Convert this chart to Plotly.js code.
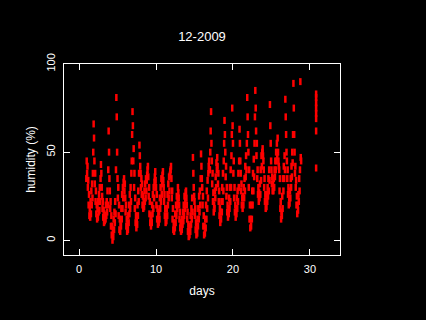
<!DOCTYPE html>
<html>
<head>
<meta charset="utf-8">
<script src="https://cdn.plot.ly/plotly-3.0.1.min.js"></script>
<style>html,body{margin:0;padding:0;background:#000;}#chart{width:426px;height:320px;}</style>
</head>
<body>
<div id="chart"></div>
<script>
// Day of month (fractional) for each reading
const days = [
0.95,
1,1.05,1.1,1.15,1.2,1.25,1.3,1.35,1.4,1.45,1.5,1.55,1.6,1.65,1.7,1.75,1.8,1.85,1.9,1.95,
2,2.05,2.1,2.15,2.2,2.25,2.3,2.35,2.4,2.45,2.5,2.55,2.6,2.65,2.7,2.75,2.8,2.85,2.9,2.95,
3,3.05,3.1,3.15,3.2,3.25,3.3,3.35,3.4,3.45,3.5,3.55,3.6,3.65,3.7,3.75,3.8,3.85,3.9,3.95,
4,4.05,4.1,4.15,4.2,4.25,4.3,4.35,4.4,4.45,4.5,4.55,4.6,4.65,4.7,4.75,4.8,4.85,4.9,4.95,
5,5.05,5.1,5.15,5.2,5.25,5.3,5.35,5.4,5.45,5.5,5.55,5.6,5.65,5.7,5.75,5.8,5.85,5.9,5.95,
6,6.05,6.1,6.15,6.2,6.25,6.3,6.35,6.4,6.45,6.5,6.55,6.6,6.65,6.7,6.75,6.8,6.85,6.9,6.95,
7,7.05,7.1,7.15,7.2,7.25,7.3,7.35,7.4,7.45,7.5,7.55,7.6,7.65,7.7,7.75,7.8,7.85,7.9,7.95,
8,8.05,8.1,8.15,8.2,8.25,8.3,8.35,8.4,8.45,8.5,8.55,8.6,8.65,8.7,8.75,8.8,8.85,8.9,8.95,
9,9.05,9.1,9.15,9.2,9.25,9.3,9.35,9.4,9.45,9.5,9.55,9.6,9.65,9.7,9.75,9.8,9.85,9.9,9.95,
10,10.05,10.1,10.15,10.2,10.25,10.3,10.35,10.4,10.45,10.5,10.55,10.6,10.65,10.7,10.75,10.8,10.85,10.9,10.95,
11,11.05,11.1,11.15,11.2,11.25,11.3,11.35,11.4,11.45,11.5,11.55,11.6,11.65,11.7,11.75,11.8,11.85,11.9,11.95,
12,12.05,12.1,12.15,12.2,12.25,12.3,12.35,12.4,12.45,12.5,12.55,12.6,12.65,12.7,12.75,12.8,12.85,12.9,12.95,
13,13.05,13.1,13.15,13.2,13.25,13.3,13.35,13.4,13.45,13.5,13.55,13.6,13.65,13.7,13.75,13.8,13.85,13.9,13.95,
14,14.05,14.1,14.15,14.2,14.25,14.3,14.35,14.4,14.45,14.5,14.55,14.6,14.65,14.7,14.75,14.8,14.85,14.9,14.95,
15,15.05,15.1,15.15,15.2,15.25,15.3,15.35,15.4,15.45,15.5,15.55,15.6,15.65,15.7,15.75,15.8,15.85,15.9,15.95,
16,16.05,16.1,16.15,16.2,16.25,16.3,16.35,16.4,16.45,16.5,16.55,16.6,16.65,16.7,16.75,16.8,16.85,16.9,16.95,
17,17.05,17.1,17.15,17.2,17.25,17.3,17.35,17.4,17.45,17.5,17.55,17.6,17.65,17.7,17.75,17.8,17.85,17.9,17.95,
18,18.05,18.1,18.15,18.2,18.25,18.3,18.35,18.4,18.45,18.5,18.55,18.6,18.65,18.7,18.75,18.8,18.85,18.9,18.95,
19,19.05,19.1,19.15,19.2,19.25,19.3,19.35,19.4,19.45,19.5,19.55,19.6,19.65,19.7,19.75,19.8,19.85,19.9,19.95,
20,20.05,20.1,20.15,20.2,20.25,20.3,20.35,20.4,20.45,20.5,20.55,20.6,20.65,20.7,20.75,20.8,20.85,20.9,20.95,
21,21.05,21.1,21.15,21.2,21.25,21.3,21.35,21.4,21.45,21.5,21.55,21.6,21.65,21.7,21.75,21.8,21.85,21.9,21.95,
22,22.05,22.1,22.15,22.2,22.25,22.3,22.35,22.4,22.45,22.5,22.55,22.6,22.65,22.7,22.75,22.8,22.85,22.9,22.95,
23,23.05,23.1,23.15,23.2,23.25,23.3,23.35,23.4,23.45,23.5,23.55,23.6,23.65,23.7,23.75,23.8,23.85,23.9,23.95,
24,24.05,24.1,24.15,24.2,24.25,24.3,24.35,24.4,24.45,24.5,24.55,24.6,24.65,24.7,24.75,24.8,24.85,24.9,24.95,
25,25.05,25.1,25.15,25.2,25.25,25.3,25.35,25.4,25.45,25.5,25.55,25.6,25.65,25.7,25.75,25.8,25.85,25.9,25.95,
26,26.05,26.1,26.15,26.2,26.25,26.3,26.35,26.4,26.45,26.5,26.55,26.6,26.65,26.7,26.75,26.8,26.85,26.9,26.95,
27,27.05,27.1,27.15,27.2,27.25,27.3,27.35,27.4,27.45,27.5,27.55,27.6,27.65,27.7,27.75,27.8,27.85,27.9,27.95,
28,28.05,28.1,28.15,28.2,28.25,28.3,28.35,28.4,28.45,28.5,28.55,28.6,28.65,28.7,28.75,28.8,28.85,
30.8,30.8,30.8,30.8,30.8,30.8,30.8,30.8
];

// Relative humidity (%) for each reading
const humidity = [
35,
45,38,42,30,34,20,26,14,18,13,22,15,28,20,32,24,38,50,66,58,
45,32,38,22,28,15,20,12,18,13,22,16,26,17,30,22,35,43,38,30,
25,18,22,13,17,10,15,11,14,12,20,14,22,16,28,20,40,62,50,35,
28,18,22,8,14,3,8,0,5,2,12,6,16,10,22,15,40,81,70,50,
35,24,30,14,20,6,12,5,10,8,18,12,26,18,30,24,33,35,28,32,
24,16,20,8,12,5,9,6,14,10,20,15,26,18,30,22,38,45,60,73,
65,45,52,30,38,18,24,10,14,7,12,9,20,14,28,22,38,54,48,42,
38,30,35,26,32,20,25,18,22,19,28,22,32,24,35,28,34,37,40,42,
36,25,30,15,22,10,14,8,12,10,20,15,26,18,30,24,33,36,39,34,
30,20,26,12,18,9,14,10,16,12,24,18,30,22,35,26,32,37,39,34,
30,22,26,14,18,10,13,11,18,14,26,20,32,24,36,28,37,39,40,42,
35,24,28,12,18,6,10,5,9,7,15,10,20,14,25,18,22,30,27,24,
20,12,16,7,10,5,8,6,12,9,16,11,20,14,25,18,22,27,28,24,
20,12,16,5,9,2,6,3,8,5,14,9,18,12,24,16,47,38,30,25,
22,14,18,6,10,3,7,4,12,8,18,12,25,16,28,20,35,49,42,35,
30,20,25,8,14,3,8,4,12,7,20,12,28,18,34,24,38,42,45,40,
40,50,62,73,55,45,32,38,22,27,16,20,18,28,24,36,30,44,40,47,
42,32,38,22,28,14,18,10,16,12,22,16,30,22,38,28,45,55,68,60,
50,36,42,25,30,16,20,13,18,15,24,18,30,22,40,30,48,60,75,65,
55,38,45,24,30,16,20,13,18,15,24,18,28,22,38,30,45,63,55,45,
38,28,32,20,24,18,25,20,30,24,35,28,42,36,48,40,55,81,70,60,
50,30,40,12,20,7,12,8,20,12,28,20,38,28,46,36,55,70,85,75,
62,48,55,35,40,26,30,22,27,24,32,26,40,34,48,42,50,52,48,45,
40,30,35,22,26,18,22,19,26,22,30,25,35,28,40,34,77,65,55,45,
40,32,36,28,32,28,35,30,40,36,45,40,50,45,55,48,58,50,45,42,
40,28,35,18,22,12,16,14,25,18,35,28,42,35,48,40,80,70,60,50,
45,35,40,26,30,20,24,21,28,24,35,30,42,36,50,44,60,89,75,60,
50,38,42,30,34,20,25,15,20,17,26,22,35,28,40,90,47,45,
83,81,78,75,72,69,62,41
];

const xTicks = [0, 10, 20, 30];
const yTicks = [0, 50, 100];

const font = {family: 'Liberation Sans, Arial, sans-serif', color: '#ffffff', size: 11};

const trace = {
  x: days, y: humidity, type: 'scatter', mode: 'markers',
  marker: {symbol: 'line-ns', size: 5, color: '#ff0000', line: {width: 2.5, color: '#ff0000'}},
  hoverinfo: 'x+y'
};

const layout = {
  width: 426, height: 320,
  paper_bgcolor: '#000000', plot_bgcolor: '#000000',
  margin: {l: 64, r: 86, t: 64, b: 65, pad: 0},
  showlegend: false,
  font: font,
  title: {text: '12-2009', x: 0.5, xref: 'paper', xanchor: 'center', y: 1 - 36/320, yref: 'container', yanchor: 'middle', font: {family: font.family, color: '#ffffff', size: 13}},
  xaxis: {
    range: [-1.95, 33.9], tickvals: xTicks, ticktext: xTicks.map(String),
    showgrid: false, zeroline: false, showline: true, linecolor: '#ffffff', linewidth: 1, mirror: 'ticks',
    ticks: 'inside', ticklen: 6, tickcolor: '#ffffff', tickwidth: 1,
    tickfont: {family: font.family, color: '#ffffff', size: 11}, ticklabelstandoff: 4,
    title: {text: 'days', font: {family: font.family, color: '#ffffff', size: 12}, standoff: 12},
    automargin: false
  },
  yaxis: {
    range: [-8.35, 100], tickvals: yTicks, ticktext: yTicks.map(String),
    showgrid: false, zeroline: false, showline: true, linecolor: '#ffffff', linewidth: 1, mirror: 'ticks',
    ticks: 'inside', ticklen: 6, tickcolor: '#ffffff', tickwidth: 1, tickangle: -90,
    tickfont: {family: font.family, color: '#ffffff', size: 11}, ticklabelstandoff: 4,
    title: {text: 'humidity (%)', font: {family: font.family, color: '#ffffff', size: 12}, standoff: 6},
    automargin: false
  }
};

Plotly.newPlot('chart', [trace], layout, {displayModeBar: false, staticPlot: true});
</script>
</body>
</html>
